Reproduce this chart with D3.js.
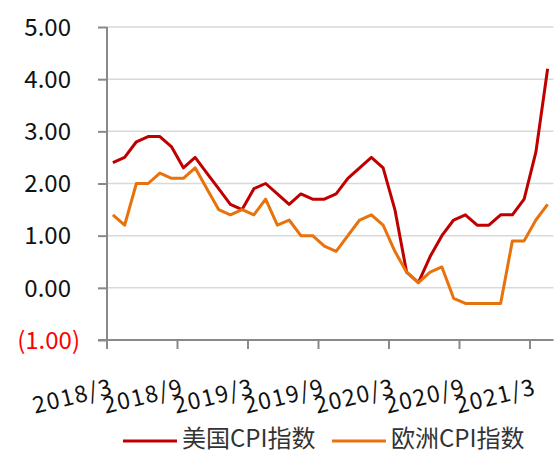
<!DOCTYPE html>
<html>
<head>
<meta charset="utf-8">
<script src="https://cdn.jsdelivr.net/npm/d3@7/dist/d3.min.js"></script>
<style>
  html, body { margin: 0; padding: 0; background: #fff; }
  svg { display: block; }
  text { font-family: "Noto Sans CJK SC", "Noto Sans", sans-serif; }
</style>
</head>
<body>
<svg id="chart" width="557" height="455"></svg>
<script>
// Monthly year-on-year CPI, March 2018 to April 2021
const months = [
  "2018/3","2018/4","2018/5","2018/6","2018/7","2018/8","2018/9","2018/10","2018/11","2018/12",
  "2019/1","2019/2","2019/3","2019/4","2019/5","2019/6","2019/7","2019/8","2019/9","2019/10","2019/11","2019/12",
  "2020/1","2020/2","2020/3","2020/4","2020/5","2020/6","2020/7","2020/8","2020/9","2020/10","2020/11","2020/12",
  "2021/1","2021/2","2021/3","2021/4"
];
const usCPI = [
  2.4, 2.5, 2.8, 2.9, 2.9, 2.7, 2.3, 2.5, 2.2, 1.9,
  1.6, 1.5, 1.9, 2.0, 1.8, 1.6, 1.8, 1.7, 1.7, 1.8, 2.1, 2.3,
  2.5, 2.3, 1.5, 0.3, 0.1, 0.6, 1.0, 1.3, 1.4, 1.2, 1.2, 1.4,
  1.4, 1.7, 2.6, 4.2
];
const euCPI = [
  1.4, 1.2, 2.0, 2.0, 2.2, 2.1, 2.1, 2.3, 1.9, 1.5,
  1.4, 1.5, 1.4, 1.7, 1.2, 1.3, 1.0, 1.0, 0.8, 0.7, 1.0, 1.3,
  1.4, 1.2, 0.7, 0.3, 0.1, 0.3, 0.4, -0.2, -0.3, -0.3, -0.3, -0.3,
  0.9, 0.9, 1.3, 1.6
];
const yTicks = [-1, 0, 1, 2, 3, 4, 5];
const xLabels = ["2018/3","2018/9","2019/3","2019/9","2020/3","2020/9","2021/3"];
const seriesNames = ["美国CPI指数", "欧洲CPI指数"];
const seriesColors = ["#C00000", "#E8720C"];

const svg = d3.select("#chart");
const plotLeft = 107, plotRight = 553.5, plotTop = 27, plotBottom = 340;

const x = d3.scaleBand().domain(months).range([plotLeft, plotRight]).paddingInner(0).paddingOuter(0);
const y = d3.scaleLinear().domain([-1, 5]).range([plotBottom, plotTop]);
const cx = m => x(m) + x.bandwidth() / 2;

// horizontal gridlines
svg.append("g").selectAll("line")
  .data(yTicks.filter(v => v !== -1))
  .join("line")
  .attr("x1", plotLeft).attr("x2", plotRight)
  .attr("y1", d => y(d)).attr("y2", d => y(d))
  .attr("stroke", "#D9D9D9").attr("stroke-width", 1.5);

// y axis
const yAxis = d3.axisLeft(y).tickValues(yTicks).tickSize(9)
  .tickFormat(v => v < 0 ? "(" + d3.format(".2f")(-v) + ")" : d3.format(".2f")(v));
const gy = svg.append("g").attr("transform", `translate(${plotLeft},0)`).call(yAxis);
gy.select(".domain").attr("stroke", "#898989").attr("stroke-width", 2)
  .attr("d", `M0,${plotTop}V${plotBottom}`);
gy.selectAll(".tick line").attr("stroke", "#898989").attr("stroke-width", 2);
gy.selectAll(".tick text")
  .attr("font-family", "'Noto Sans CJK SC', sans-serif")
  .attr("font-size", 24)
  .attr("fill", d => d < 0 ? "#FF0000" : "#111")
  .attr("x", d => d < 0 ? -27 : -36)
  .attr("dy", "0.34em");

// x axis: tick marks sit between categories, every six months
const xAxis = d3.axisBottom(x).tickValues(months.filter((m, i) => i % 6 === 0)).tickSize(9).tickFormat("");
const gx = svg.append("g").attr("transform", `translate(0,${plotBottom})`).call(xAxis);
gx.select(".domain").attr("stroke", "#898989").attr("stroke-width", 2)
  .attr("d", `M${plotLeft - 9},0H${plotRight}`);
gx.selectAll(".tick").attr("transform", d => `translate(${x(d)},0)`);
gx.selectAll(".tick line").attr("stroke", "#898989").attr("stroke-width", 2);

// rotated category labels, ending at the category centre
svg.append("g").selectAll("text")
  .data(xLabels)
  .join("text")
  .attr("transform", d => `translate(${cx(d) + 1.5},${394}) rotate(-14)`)
  .attr("text-anchor", "end")
  .attr("font-size", 23)
  .attr("letter-spacing", 1.5)
  .attr("fill", "#111")
  .text(d => d);

// series lines
const line = d3.line().x((d, i) => cx(months[i])).y(d => y(d));
[usCPI, euCPI].forEach((vals, k) => {
  svg.append("path")
    .datum(vals)
    .attr("d", line)
    .attr("fill", "none")
    .attr("stroke", seriesColors[k])
    .attr("stroke-width", 3)
    .attr("stroke-linejoin", "round");
});

// legend
const legendX = [123, 332];
const lg = svg.append("g");
seriesNames.forEach((name, k) => {
  lg.append("line")
    .attr("x1", legendX[k]).attr("x2", legendX[k] + 54)
    .attr("y1", 441).attr("y2", 441)
    .attr("stroke", seriesColors[k]).attr("stroke-width", 3);
  lg.append("text")
    .attr("x", legendX[k] + 59).attr("y", 447)
    .attr("font-size", 24).attr("fill", "#333")
    .text(name);
});
</script>
</body>
</html>
